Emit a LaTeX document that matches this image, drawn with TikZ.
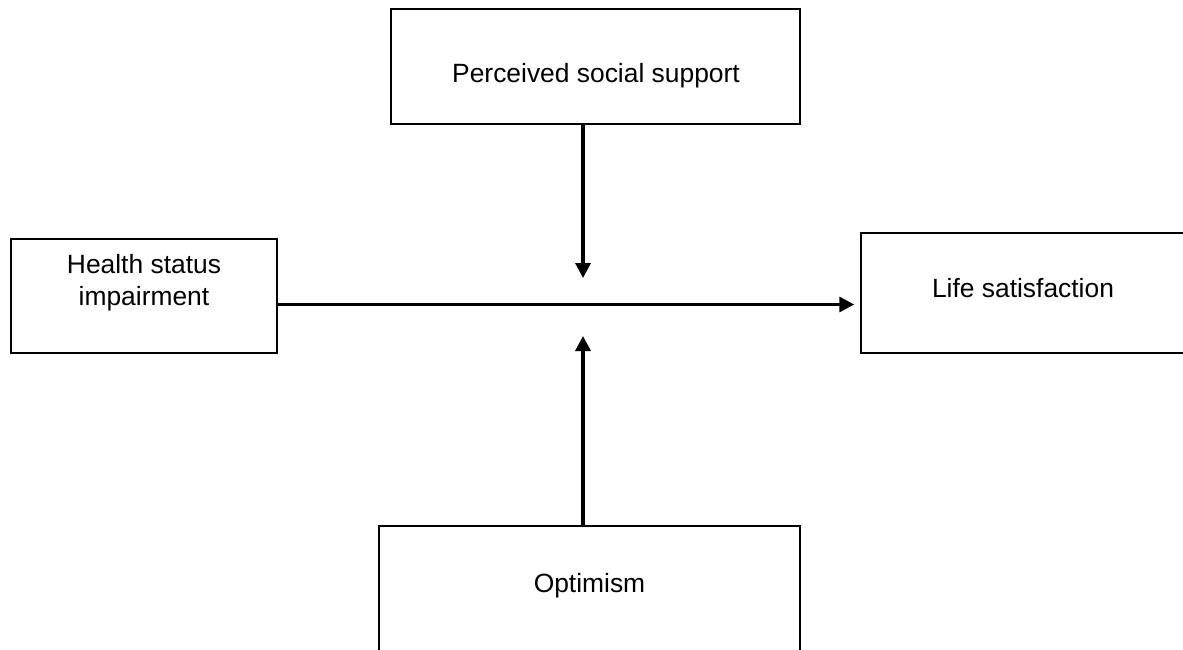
\documentclass[tikz,border=0pt]{standalone}
\usepackage{fontspec}
\setmainfont{Liberation Sans}
\usetikzlibrary{arrows.meta}
\begin{document}
\begin{tikzpicture}[x=1pt,y=-1pt,
  box/.style={draw=black,line width=1.5pt,rectangle,inner sep=0pt},
  lbl/.style={inner sep=0pt,font=\fontsize{26.4}{31.7}\selectfont,align=center},
  arr/.style={line width=3.2pt,-{Triangle[length=15pt,width=15pt]}}]
\useasboundingbox (0,0) rectangle (1183,650);
% boxes
\node[box,minimum width=409pt,minimum height=115pt] (ps) at (595.5,66.5) {};
\node[box,minimum width=266pt,minimum height=114pt] (hs) at (144,296) {};
\node[box,minimum width=324pt,minimum height=120pt] (ls) at (1023,293) {};
\node[box,minimum width=421pt,minimum height=134pt] (op) at (589.5,593) {};
% labels
\node[lbl,anchor=base] (pst) at (596,83) {Perceived social support};
\node[lbl,anchor=center] (hst) at (144,282.5) {Health status\\impairment};
\node[lbl,anchor=base] (lst) at (1023,297) {Life satisfaction};
\node[lbl,anchor=base] (opt) at (589.5,592) {Optimism};
% connectors
\coordinate (mid) at (583,304.5);
\coordinate (dtip) at (583,278);
\coordinate (utip) at (583,336);
\draw[arr] (hs.east |- mid) -- ([xshift=-6pt]ls.west |- mid);
\draw[arr] (ps.south -| dtip) -- (dtip);
\draw[arr] (op.north -| utip) -- (utip);
\end{tikzpicture}
\end{document}
